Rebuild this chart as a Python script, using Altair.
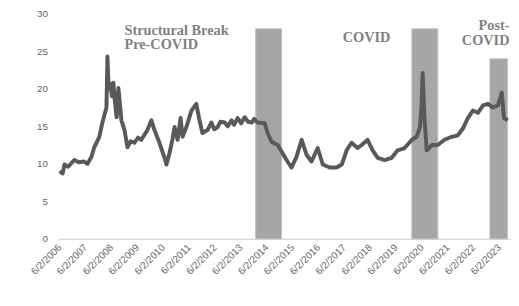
import altair as alt
import pandas as pd

# ---- series ----
dates = [
    "2006-06-02", "2006-07-15", "2006-08-10", "2006-10-01", "2006-12-28", "2007-03-01",
    "2007-05-15", "2007-07-01", "2007-08-25", "2007-10-05", "2007-12-15", "2008-01-25",
    "2008-03-25", "2008-04-08", "2008-04-25", "2008-05-18", "2008-06-10", "2008-07-01",
    "2008-07-20", "2008-08-15", "2008-09-10", "2008-10-22", "2008-12-05", "2009-01-15",
    "2009-03-01", "2009-04-22", "2009-06-15", "2009-07-30", "2009-10-25", "2009-12-20",
    "2010-02-01", "2010-04-12", "2010-06-20", "2010-07-20", "2010-09-01", "2010-10-12",
    "2010-11-12", "2010-12-25", "2011-02-05", "2011-03-05", "2011-04-28", "2011-07-08",
    "2011-09-15", "2011-10-30", "2011-12-10", "2012-02-20", "2012-04-15", "2012-05-25",
    "2012-07-12", "2012-08-20", "2012-10-20", "2012-12-01", "2013-01-25", "2013-03-01",
    "2013-04-20", "2013-06-10", "2013-07-28", "2013-09-15", "2013-11-05", "2013-12-10",
    "2014-01-25", "2014-05-08", "2014-06-18", "2014-08-15", "2014-11-08", "2015-01-15",
    "2015-03-25", "2015-05-20", "2015-07-30", "2015-10-12", "2015-12-20", "2016-02-28",
    "2016-05-25", "2016-08-05", "2016-11-10", "2017-02-15", "2017-04-30", "2017-07-08",
    "2017-09-15", "2017-12-10", "2018-02-05", "2018-04-30", "2018-07-10", "2018-09-20",
    "2018-12-28", "2019-04-05", "2019-06-28", "2019-10-05", "2020-01-15", "2020-03-25",
    "2020-05-08", "2020-06-01", "2020-06-15", "2020-07-10", "2020-08-12", "2020-10-25",
    "2021-01-15", "2021-04-20", "2021-07-30", "2021-10-25", "2022-01-05", "2022-03-15",
    "2022-05-25", "2022-08-05", "2022-10-15", "2022-12-25", "2023-03-05", "2023-05-15",
    "2023-07-08", "2023-08-08", "2023-10-01",
]
values = [
    9.0, 8.7, 9.9, 9.6, 10.5, 10.2,
    10.3, 10.0, 10.9, 12.2, 13.6, 15.4,
    17.5, 24.3, 20.0, 20.7, 19.0, 20.8,
    18.5, 16.2, 20.1, 15.8, 14.5, 12.2,
    13.0, 12.8, 13.5, 13.2, 14.5, 15.8,
    14.5, 12.8, 10.9, 9.9, 11.4, 13.2,
    14.9, 13.2, 16.1, 13.6, 14.9, 17.1,
    18.0, 15.8, 14.1, 14.5, 15.5, 14.6,
    14.9, 15.6, 15.5, 15.0, 15.8, 15.2,
    16.1, 15.4, 16.2, 15.6, 15.5, 16.0,
    15.5, 15.4, 14.1, 12.9, 12.5, 11.4,
    10.3, 9.5, 10.9, 13.2, 11.2, 10.3,
    12.1, 9.9, 9.5, 9.5, 9.9, 11.8,
    12.8, 12.1, 12.5, 13.2, 11.8, 10.8,
    10.5, 10.8, 11.8, 12.1, 13.2, 13.6,
    14.9, 18.0, 22.1, 16.2, 11.8, 12.5,
    12.5, 13.2, 13.6, 13.8, 14.7, 16.1,
    17.1, 16.8, 17.8, 18.0, 17.5, 17.8,
    19.5, 16.1, 15.8,
]

# ---- shaded periods ----
band_start = ["2014-01-01", "2020-01-15", "2023-01-22"]
band_end = ["2015-01-01", "2021-01-15", "2023-09-24"]
band_top = [28, 28, 24]

# ---- annotations ----
ann_text = ["Structural Break", "Pre-COVID", "COVID", "Post-", "COVID"]
ann_date = ["2008-12-04", "2008-12-04", "2018-04-15", "2023-10-25", "2023-10-25"]
ann_value = [27.76, 25.8, 26.8, 28.4, 26.4]
ann_align = ["left", "left", "center", "right", "right"]

# ---- axis ticks ----
tick_years = list(range(2006, 2024))
y_ticks = [0, 5, 10, 15, 20, 25, 30]

def local(s):
    return s.replace("-", "/")

series = pd.DataFrame({"date": [local(d) for d in dates], "value": values})
bands = pd.DataFrame({"start": [local(d) for d in band_start],
                      "end": [local(d) for d in band_end],
                      "top": band_top})
ann = pd.DataFrame({"text": ann_text, "date": [local(d) for d in ann_date],
                    "value": ann_value, "align": ann_align})

xscale = alt.Scale(domain=[alt.DateTime(year=2006, month=5, date=15),
                           alt.DateTime(year=2023, month=11, date=1)], nice=False)
yscale = alt.Scale(domain=[0, 30], nice=False)

xaxis = alt.Axis(
    values=[alt.DateTime(year=y, month=6, date=2) for y in tick_years],
    format="%-m/%-d/%Y", labelAngle=-45, labelAlign="right", labelBaseline="middle",
    labelFont="Liberation Sans", labelFontSize=10, labelColor="#666666",
    ticks=False, tickSize=0, grid=False, domain=True, domainColor="#D9D9D9",
    domainWidth=1.5, labelPadding=7, labelOverlap=False, labelFlush=False,
    labelBound=False, title=None,
)
yaxis = alt.Axis(
    values=y_ticks, labelFont="Liberation Sans", labelFontSize=10, labelColor="#666666",
    ticks=False, tickSize=0, grid=False, domain=False, labelPadding=11, title=None,
)

bars = alt.Chart(bands).mark_rect(color="#A6A6A6", stroke="#BDBDBD", strokeWidth=1).encode(
    x=alt.X("start:T", scale=xscale, axis=xaxis),
    x2="end:T",
    y=alt.Y("top:Q", scale=yscale, axis=yaxis),
    y2=alt.datum(0),
)

line = alt.Chart(series).mark_line(color="#595959", strokeWidth=4, strokeJoin="round").encode(
    x=alt.X("date:T", scale=xscale, axis=xaxis),
    y=alt.Y("value:Q", scale=yscale, axis=yaxis),
)

def ann_layer(al):
    return alt.Chart(ann).transform_filter(alt.datum.align == al).mark_text(
        align=al, baseline="middle", font="Liberation Serif", fontWeight="bold",
        fontSize=14.5, color="#808080",
    ).encode(
        x=alt.X("date:T", scale=xscale, axis=xaxis),
        y=alt.Y("value:Q", scale=yscale, axis=yaxis),
        text="text:N",
    )

chart = alt.layer(bars, line, ann_layer("left"), ann_layer("center"), ann_layer("right")).properties(
    width=458, height=228,
    padding={"left": 51, "top": 4, "right": 1, "bottom": 48},
    autosize=alt.AutoSizeParams(type="none"),
    background="white",
).configure_view(stroke=None)

chart.save("out.html", embed_options={"renderer": "svg", "actions": False})
